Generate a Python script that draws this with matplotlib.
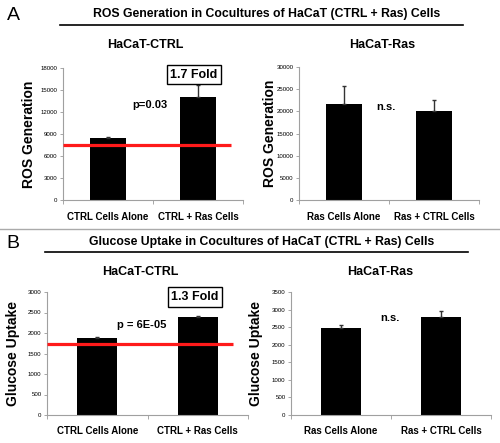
import matplotlib
matplotlib.use("Agg")
import matplotlib.pyplot as plt
from matplotlib.lines import Line2D

plt.rcParams['font.family'] = ['Liberation Sans', 'DejaVu Sans']

# Panel A: ROS generation
ros_ctrl_labels = ['CTRL Cells Alone', 'CTRL + Ras Cells']
ros_ctrl_vals = [8450, 14050]
ros_ctrl_err = [100, 1600]
ros_ctrl_ref = 7500

ros_ras_labels = ['Ras Cells Alone', 'Ras + CTRL Cells']
ros_ras_vals = [21650, 20050]
ros_ras_err = [4050, 2500]

# Panel B: glucose uptake
glu_ctrl_labels = ['CTRL Cells Alone', 'CTRL + Ras Cells']
glu_ctrl_vals = [1870, 2390]
glu_ctrl_err = [35, 20]
glu_ctrl_ref = 1730

glu_ras_labels = ['Ras Cells Alone', 'Ras + CTRL Cells']
glu_ras_vals = [2475, 2790]
glu_ras_err = [80, 170]

W, H = 500, 443
fig = plt.figure(figsize=(W / 100, H / 100), dpi=100)


def px_axes(x0, y0, x1, y1):
    # pixel box (top-left origin) -> figure axes
    return fig.add_axes([x0 / W, 1 - y1 / H, (x1 - x0) / W, (y1 - y0) / H])


def bar_panel(ax, labels, vals, errs, ymax, step, ylabel, ylabel_size, label_x):
    ax.bar(range(len(vals)), vals, width=0.4, color='black', zorder=2)
    ax.errorbar(range(len(vals)), vals, yerr=[[0] * len(errs), errs], fmt='none',
                ecolor='#333333', elinewidth=1, capsize=1.5, capthick=1, zorder=3)
    ax.set_xlim(-0.5, len(vals) - 0.5)
    ax.set_ylim(0, ymax)
    ax.set_yticks(range(0, ymax + 1, step))
    ax.tick_params(axis='y', labelsize=4.4, length=2, width=0.6, color='#999999', pad=2)
    ax.set_xticks([-0.5, 0.5, 1.5])
    ax.set_xticklabels([])
    ax.tick_params(axis='x', length=3, width=0.6, color='#999999')
    for i, lab in enumerate(labels):
        ax.text(i, -0.09, lab, transform=ax.get_xaxis_transform(), ha='center',
                va='top', fontsize=7, fontweight='bold')
    for s in ['top', 'right']:
        ax.spines[s].set_visible(False)
    for s in ['left', 'bottom']:
        ax.spines[s].set_color('#a0a0a0')
        ax.spines[s].set_linewidth(0.8)
    ax.set_ylabel(ylabel, fontsize=ylabel_size, fontweight='bold')
    ax.yaxis.set_label_coords(label_x, 0.5)


# ---- figure-level helpers ----
def ftext(x, y, s, **kw):
    fig.text(x / W, 1 - y / H, s, **kw)


def fline(x0, x1, y, **kw):
    fig.add_artist(Line2D([x0 / W, x1 / W], [1 - y / H, 1 - y / H],
                          transform=fig.transFigure, **kw))


fold_box = dict(boxstyle='square,pad=0.3', fc='white', ec='black', lw=1)

# ---- Panel A ----
ax1 = px_axes(63, 68, 243, 200)
bar_panel(ax1, ros_ctrl_labels, ros_ctrl_vals, ros_ctrl_err, 18000, 3000,
          'ROS Generation', 10, -0.15)
ax1.hlines(ros_ctrl_ref, -0.5, 1.37, color='#ff1a1a', lw=2.3, zorder=4)

ax2 = px_axes(299, 67, 479, 200)
bar_panel(ax2, ros_ras_labels, ros_ras_vals, ros_ras_err, 30000, 5000,
          'ROS Generation', 10, -0.122)

ftext(194, 74.5, '1.7 Fold', fontsize=9, fontweight='bold', ha='center',
      va='center', bbox=fold_box, zorder=5)
ftext(150, 105, 'p=0.03', fontsize=8, fontweight='bold', ha='center', va='center')
ftext(386, 107, 'n.s.', fontsize=8, fontweight='bold', ha='center', va='center')

# ---- Panel B ----
ax3 = px_axes(47, 292, 248, 415)
bar_panel(ax3, glu_ctrl_labels, glu_ctrl_vals, glu_ctrl_err, 3000, 500,
          'Glucose Uptake', 10, -0.134)
ax3.hlines(glu_ctrl_ref, -0.5, 1.35, color='#ff1a1a', lw=2.3, zorder=4)

ax4 = px_axes(291, 292, 491, 415)
bar_panel(ax4, glu_ras_labels, glu_ras_vals, glu_ras_err, 3500, 500,
          'Glucose Uptake', 10, -0.14)

ftext(195, 297, '1.3 Fold', fontsize=9, fontweight='bold', ha='center',
      va='center', bbox=fold_box, zorder=5)
ftext(142, 325, 'p = 6E-05', fontsize=8, fontweight='bold', ha='center', va='center')
ftext(390, 318, 'n.s.', fontsize=8, fontweight='bold', ha='center', va='center')

# ---- titles and rules ----
ftext(13, 15, 'A', fontsize=14, ha='center', va='center')
ftext(267, 14, 'ROS Generation in Cocultures of HaCaT (CTRL + Ras) Cells',
      fontsize=8.8, fontweight='bold', ha='center', va='center')
fline(60, 463, 25, color='black', lw=1.2)
ftext(145, 45, 'HaCaT-CTRL', fontsize=9, fontweight='bold', ha='center', va='center')
ftext(382, 45, 'HaCaT-Ras', fontsize=9, fontweight='bold', ha='center', va='center')

fline(0, 500, 229, color='#aaaaaa', lw=1)

ftext(13, 244, 'B', fontsize=14, ha='center', va='center')
ftext(262, 242, 'Glucose Uptake in Cocultures of HaCaT (CTRL + Ras) Cells',
      fontsize=8.8, fontweight='bold', ha='center', va='center')
fline(45, 468, 252, color='black', lw=1.2)
ftext(140, 272, 'HaCaT-CTRL', fontsize=9, fontweight='bold', ha='center', va='center')
ftext(380, 272, 'HaCaT-Ras', fontsize=9, fontweight='bold', ha='center', va='center')

fig.savefig('out.png', dpi=100)
